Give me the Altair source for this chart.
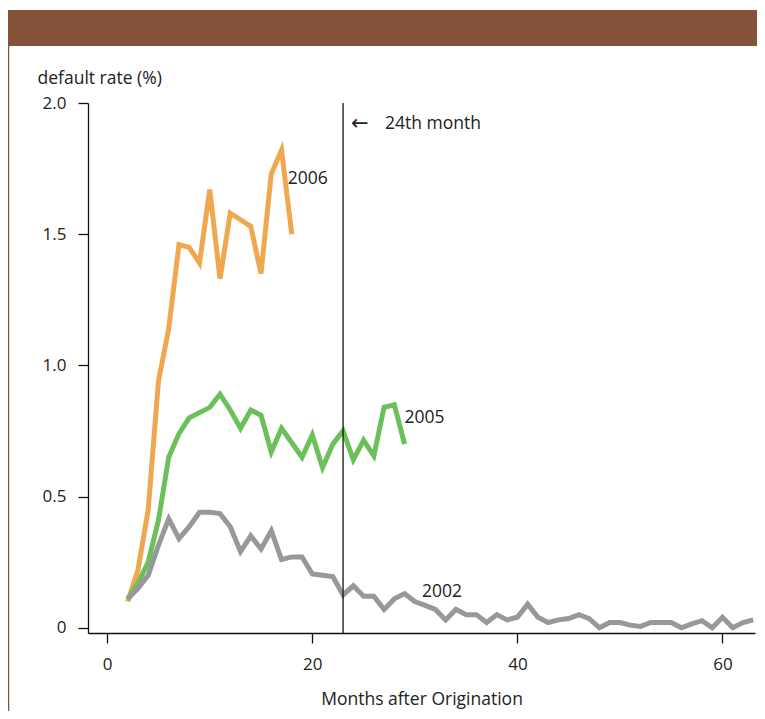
import altair as alt
import pandas as pd

# ---- data ----
months_2006 = list(range(2, 19))
rate_2006 = [0.10, 0.22, 0.45, 0.94, 1.14, 1.46, 1.45, 1.39, 1.67, 1.33, 1.58, 1.555,
             1.53, 1.35, 1.73, 1.82, 1.50]

months_2005 = list(range(2, 30))
rate_2005 = [0.11, 0.17, 0.25, 0.41, 0.65, 0.74, 0.80, 0.82, 0.84, 0.89, 0.83, 0.76,
             0.83, 0.81, 0.67, 0.76, 0.705, 0.65, 0.735, 0.61, 0.70, 0.75, 0.64, 0.715,
             0.655, 0.84, 0.85, 0.70]

months_2002 = list(range(2, 64))
rate_2002 = [0.11, 0.15, 0.20, 0.315, 0.415, 0.34, 0.385, 0.44, 0.44, 0.435, 0.385, 0.29,
             0.35, 0.30, 0.37, 0.26, 0.27, 0.27, 0.205, 0.20, 0.195, 0.125, 0.16, 0.12,
             0.12, 0.07, 0.11, 0.13, 0.10, 0.085, 0.07, 0.03, 0.07, 0.05, 0.05, 0.02,
             0.05, 0.03, 0.04, 0.09, 0.04, 0.02, 0.03, 0.035, 0.05, 0.035, 0.0, 0.02,
             0.02, 0.01, 0.005, 0.02, 0.02, 0.02, 0.0, 0.015, 0.027, 0.0, 0.04, 0.0,
             0.02, 0.03]

series_names = ["2006", "2005", "2002"]
series_colors = ["#F0A850", "#6CC05A", "#98989A"]

label_x = [17.6, 29.0, 30.7]
label_y = [1.71, 0.80, 0.135]

marker_month = 23
marker_arrow = "\u2190"
marker_text = "24th month"

x_ticks = [0, 20, 40, 60]
y_ticks = [0, 0.5, 1.0, 1.5, 2.0]

# ---- tables ----
rows = []
for name, ms, rs in [("2006", months_2006, rate_2006),
                     ("2005", months_2005, rate_2005),
                     ("2002", months_2002, rate_2002)]:
    for m, r in zip(ms, rs):
        rows.append({"month": m, "rate": r, "series": name})
lines_df = pd.DataFrame(rows)
labels_df = pd.DataFrame({"month": label_x, "rate": label_y, "series": series_names})
marker_df = pd.DataFrame({"month": [marker_month], "top": [2.0], "bottom": [-0.02],
                          "ann_y": [1.92], "arrow": [marker_arrow], "text": [marker_text]})
dummy = pd.DataFrame({"a": [0]})

FONT = "Open Sans"
BROWN = "#85533A"
INK = "#222222"

x_scale = alt.Scale(domain=[-1.872, 63.17], nice=False, zero=False)
y_scale = alt.Scale(domain=[-0.02, 2.0], nice=False, zero=False)
color_scale = alt.Scale(domain=series_names, range=series_colors)

x_axis = alt.Axis(values=x_ticks, title="Months after Origination", grid=False,
                  tickSize=10, labelPadding=13, labelFontSize=17, labelFont=FONT,
                  labelColor=INK, titleFont=FONT, titleFontSize=17.5,
                  titleFontWeight="normal", titleColor=INK, titleY=66,
                  titleBaseline="middle", domainColor="#111", tickColor="#111",
                  domainWidth=1.3, tickWidth=1.3)
y_axis = alt.Axis(values=y_ticks, title="default rate (%)", grid=False,
                  tickSize=10, labelPadding=12, labelFontSize=17, labelFont=FONT,
                  labelColor=INK,
                  labelExpr="datum.value == 0 ? '0' : format(datum.value, '.1f')",
                  titleFont=FONT, titleFontSize=17.5, titleFontWeight="normal",
                  titleColor=INK, titleAngle=0, titleAlign="left",
                  titleBaseline="middle", titleX=-51, titleY=-25,
                  domainColor="#111", tickColor="#111", domainWidth=1.3, tickWidth=1.3)

band = alt.Chart(dummy).mark_rect(color=BROWN).encode(
    x=alt.value(-80), x2=alt.value(669), y=alt.value(-93), y2=alt.value(-57))
border = alt.Chart(dummy).mark_rule(color=BROWN, strokeWidth=1.5).encode(
    x=alt.value(-79.5), y=alt.value(-57), y2=alt.value(620))

lines = alt.Chart(lines_df).mark_line(strokeWidth=5).encode(
    x=alt.X("month:Q", scale=x_scale, axis=x_axis),
    y=alt.Y("rate:Q", scale=y_scale, axis=y_axis),
    color=alt.Color("series:N", scale=color_scale, legend=None),
    detail="series:N",
)

rule = alt.Chart(marker_df).mark_rule(color="#111", strokeWidth=1.3).encode(
    x=alt.X("month:Q", scale=x_scale),
    y=alt.Y("top:Q", scale=y_scale),
    y2="bottom:Q",
)
ann_arrow = alt.Chart(marker_df).mark_text(align="left", baseline="middle", dx=8,
                                           font="DejaVu Sans", fontSize=21,
                                           color=INK).encode(
    x=alt.X("month:Q", scale=x_scale),
    y=alt.Y("ann_y:Q", scale=y_scale),
    text="arrow:N",
)
ann = alt.Chart(marker_df).mark_text(align="left", baseline="middle", dx=42,
                                     font=FONT, fontSize=17.5, color=INK).encode(
    x=alt.X("month:Q", scale=x_scale),
    y=alt.Y("ann_y:Q", scale=y_scale),
    text="text:N",
)

labels = alt.Chart(labels_df).mark_text(align="left", baseline="middle",
                                        font=FONT, fontSize=17.5, color=INK).encode(
    x=alt.X("month:Q", scale=x_scale),
    y=alt.Y("rate:Q", scale=y_scale),
    text="series:N",
)

chart = alt.layer(band, border, lines, rule, ann_arrow, ann, labels).properties(
    width=667, height=530,
    autosize=alt.AutoSizeParams(type="none"),
    padding={"left": 80, "top": 95, "right": 2, "bottom": 78},
    background="white",
).configure_view(stroke=None)

chart.save("out.html", embed_options={"renderer": "svg", "actions": False})
